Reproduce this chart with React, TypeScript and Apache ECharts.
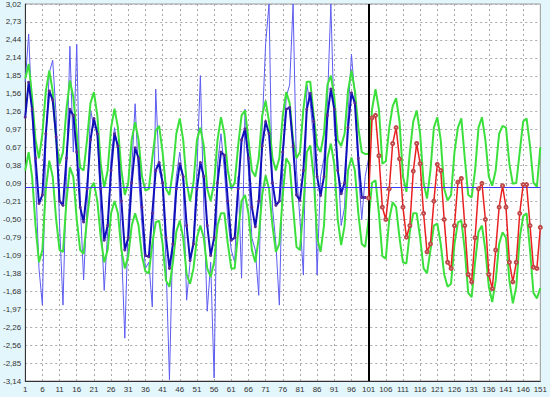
import React, { useEffect, useRef } from "react";
import * as echarts from "echarts";

const xLabels: string[] = Array.from({ length: 151 }, (_, k) => String(k + 1));

const yTickLabels = [
  "-3,14", "-2,85", "-2,56", "-2,26", "-1,97", "-1,68", "-1,38", "-1,09", "-0,79", "-0,50", "-0,21",
  "0,09", "0,38", "0,67", "0,97", "1,26", "1,56", "1,85", "2,14", "2,44", "2,73", "3,02",
];

const Y_MIN = -3.14;
const Y_MAX = 3.02;
const MEAN_LEVEL = 0.02;
const SPLIT_INDEX = "101";

// observed series (thin blue), points 1..101
const actual = [
  1.75, 2.53, 1.2, 0.2, -1.3, -1.9, 0.8, 1.9, 2.1, 1.2,
  -0.6, -1.9, 0.2, 2.33, 0.6, 2.36, -0.2, -1.49, -0.3, 1.3,
  1.0, 1.0, -0.4, -1.66, -0.7, 0.5, 1.0, 0.6, -0.9, -2.44,
  -0.5, 0.3, 1.39, 0.2, -0.6, -1.3, -1.2, -1.93, 1.63, 0.3,
  0.1, -1.2, -3.12, -0.7, 0.2, 0.6, 0.1, -1.82, -1.2, -0.8,
  0.3, 1.85, -0.3, -2.0, -1.2, -3.09, 0.4, 0.9, 0.3, -0.5,
  -1.0, -1.2, 0.2, -1.46, 1.3, 0.3, -0.8, -1.0, -1.74, 1.0,
  2.37, 3.02, -0.3, -0.9, -1.9, 0.4, 1.5, 1.7, 3.02, 0.3,
  -0.5, -1.41, 1.7, 1.4, 0.8, -1.41, 0.2, 0.5, 1.4, 3.02,
  1.0, 0.5, -0.6, -0.3, 1.2, 2.2, 1.5, 0.3, -0.5, 0.2,
  0.5,
];

// fitted series (thick dark blue), points 1..100
const fitted = [
  1.17, 1.74, 1.3, 0.5, -0.24, -0.1, 0.9, 1.6, 1.45, 0.85,
  -0.2, -0.27, 0.5, 1.3, 1.2, 0.6, -0.3, -0.54, 0.0, 0.8,
  1.15, 0.9, 0.0, -0.84, -0.6, 0.3, 0.9, 0.7, -0.2, -1.0,
  -0.8, 0.1, 0.67, 0.5, -0.3, -1.09, -1.11, -0.4, 0.3, 0.43,
  0.1, -0.8, -1.3, -0.9, 0.0, 0.41, 0.2, -0.6, -1.17, -0.9,
  0.0, 0.43, 0.2, -0.6, -1.09, -0.8, 0.1, 0.6, 0.55, -0.2,
  -0.84, -0.8, 0.0, 0.8, 0.98, 0.5, -0.3, -0.62, -0.2, 0.7,
  1.1, 0.9, 0.1, -0.27, -0.2, 0.6, 1.3, 1.33, 0.7, -0.1,
  -0.19, 0.3, 1.3, 1.56, 1.1, 0.2, -0.11, 0.2, 1.2, 1.63,
  1.3, 0.3, -0.08, 0.1, 1.0, 1.57, 1.4, 0.5, -0.14, -0.14,
];

// upper band (green), points 1..151
const upper = [
  1.8, 2.04, 1.5, 0.8, 0.5, 0.9, 1.6, 1.93, 1.6, 0.8,
  0.41, 0.6, 1.3, 1.77, 1.5, 0.9, 0.35, 0.3, 0.8, 1.4,
  1.58, 1.2, 0.4, 0.02, 0.3, 1.0, 1.31, 1.0, 0.3, -0.1,
  0.1, 0.8, 1.09, 0.8, 0.2, -0.03, 0.0, 0.5, 0.95, 1.03,
  0.6, 0.0, -0.1, 0.3, 0.9, 1.15, 0.8, 0.1, -0.2, 0.1,
  0.8, 1.0, 0.7, 0.0, -0.2, 0.1, 0.8, 1.17, 0.9, 0.3,
  0.0, 0.1, 0.7, 1.2, 1.28, 0.8, 0.3, 0.2, 0.5, 1.2,
  1.44, 1.1, 0.5, 0.3, 0.5, 1.2, 1.58, 1.4, 0.8, 0.5,
  0.6, 1.3, 1.75, 1.75, 1.2, 0.7, 0.6, 0.9, 1.7, 1.85,
  1.5, 0.8, 0.7, 0.9, 1.6, 1.93, 1.6, 1.0, 0.6, 0.57,
  0.57, 1.3, 1.63, 1.3, 0.41, 0.45, 1.0, 1.35, 1.48, 1.1,
  0.2, -0.05, 0.6, 1.1, 1.28, 0.9, 0.1, -0.16, 0.3, 1.0,
  1.17, 0.8, 0.0, -0.19, -0.1, 0.6, 1.0, 1.15, 0.5, -0.1,
  -0.14, 0.3, 1.0, 1.17, 0.8, 0.2, 0.05, 0.3, 0.9, 1.03,
  1.0, 0.4, 0.08, 0.1, 0.6, 1.1, 1.15, 0.7, 0.1, 0.03,
  0.68,
];

// lower band (green), points 1..151
const lower = [
  0.3, 0.6, 0.2, -0.6, -1.2, -1.0, 0.0, 0.46, 0.2, -0.5,
  -1.0, -1.03, -0.2, 0.35, 0.2, -0.5, -1.0, -1.06, -0.5, 0.0,
  0.1, -0.2, -0.8, -1.2, -1.0, -0.4, -0.2, -0.4, -1.0, -1.3,
  -1.1, -0.6, -0.4, -0.6, -1.1, -1.35, -1.38, -0.9, -0.55, -0.52,
  -0.9, -1.5, -1.6, -1.2, -0.7, -0.52, -0.8, -1.4, -1.55, -1.3,
  -0.8, -0.6, -0.8, -1.3, -1.44, -1.2, -0.6, -0.4, -0.4, -0.9,
  -1.3, -1.3, -0.7, -0.2, -0.1, -0.4, -1.0, -1.2, -0.8, -0.1,
  0.22, 0.0, -0.6, -1.03, -0.9, -0.1, 0.5, 0.4, -0.3, -0.95,
  -1.0, -0.3, 0.6, 0.71, 0.2, -0.8, -1.03, -0.6, 0.5, 0.74,
  0.4, -0.5, -0.92, -0.6, 0.3, 0.51, 0.3, -0.4, -0.9, -0.95,
  -0.5, 0.1, 0.14, -0.4, -1.1, -1.14, -0.5, -0.22, -0.3, -0.8,
  -1.2, -1.22, -0.7, -0.4, -0.4, -0.8, -1.3, -1.38, -1.0, -0.6,
  -0.57, -0.9, -1.4, -1.6, -1.55, -0.9, -0.55, -0.52, -1.0, -1.7,
  -1.77, -1.2, -0.7, -0.6, -1.0, -1.6, -1.85, -1.5, -0.9, -0.71,
  -0.8, -1.5, -1.87, -1.6, -0.8, -0.45, -0.4, -1.0, -1.7, -1.79,
  -1.62,
];

// forecast (red), points 101..151
const forecast = [
  -0.15, 1.16, 1.2, 0.54, -0.3, -0.5, 0.0, 0.74, 1.0, 0.49,
  -0.3, -0.79, -0.6, 0.29, 0.74, 0.41, -0.4, -1.03, -0.9, -0.2,
  0.4, 0.3, -0.5, -1.2, -1.3, -0.6, 0.11, 0.17, -0.6, -1.4,
  -1.52, -0.8, 0.0, 0.09, -0.5, -1.4, -1.63, -1.0, -0.3, 0.05,
  -0.3, -1.2, -1.52, -1.2, -0.4, 0.07, 0.07, -0.6, -1.28, -1.3,
  -0.63,
];

const FORECAST_START = 101;

export default function App() {
  const ref = useRef<HTMLDivElement>(null);

  useEffect(() => {
    document.body.style.margin = "0";
    if (!ref.current) return;
    const chart = echarts.init(ref.current, undefined, { renderer: "svg" });
    const step = (Y_MAX - Y_MIN) / (yTickLabels.length - 1);
    const forecastData: (number | null)[] = xLabels.map((_, k) => {
      const idx = k + 1 - FORECAST_START;
      return idx >= 0 && idx < forecast.length ? forecast[idx] : null;
    });
    const font = "Liberation Sans, Arial, sans-serif";
    chart.setOption({
      animation: false,
      backgroundColor: "#E3F6FC",
      grid: {
        left: 25,
        right: 4,
        top: 3,
        bottom: 16,
        show: true,
        backgroundColor: "#ffffff",
        borderColor: "#9a9a9a",
        borderWidth: 1,
      },
      xAxis: {
        type: "category",
        data: xLabels,
        boundaryGap: false,
        axisLine: { show: true, onZero: false, lineStyle: { color: "#333333", width: 1 } },
        axisTick: { show: false },
        axisLabel: {
          interval: 4,
          fontSize: 8,
          color: "#333333",
          fontFamily: font,
          margin: 4,
        },
        splitLine: {
          show: true,
          interval: 4,
          lineStyle: { color: "#a8a8a8", type: [2, 3], width: 1 },
        },
      },
      yAxis: {
        type: "value",
        min: Y_MIN,
        max: Y_MAX,
        interval: step,
        axisLine: { show: true, onZero: false, lineStyle: { color: "#333333", width: 1 } },
        axisTick: { show: false },
        axisLabel: {
          fontSize: 8,
          color: "#333333",
          fontFamily: font,
          margin: 4,
          formatter: (v: number) => {
            const k = Math.round((v - Y_MIN) / step);
            return yTickLabels[k] ?? "";
          },
        },
        splitLine: {
          show: true,
          lineStyle: { color: "#a8a8a8", type: [2, 3], width: 1 },
        },
      },
      series: [
        {
          name: "actual",
          type: "line",
          data: actual,
          showSymbol: false,
          lineStyle: { color: "#5c5cf0", width: 1 },
          z: 2,
          markLine: {
            silent: true,
            symbol: "none",
            label: { show: false },
            data: [
              { yAxis: MEAN_LEVEL, lineStyle: { color: "#3a3aff", width: 1, type: "solid" } },
            ],
          },
        },
        {
          name: "upper",
          type: "line",
          data: upper,
          showSymbol: false,
          lineStyle: { color: "#3ce03c", width: 2 },
          z: 3,
        },
        {
          name: "lower",
          type: "line",
          data: lower,
          showSymbol: false,
          lineStyle: { color: "#3ce03c", width: 2 },
          z: 3,
        },
        {
          name: "fitted",
          type: "line",
          data: fitted,
          symbol: "circle",
          symbolSize: 3,
          showSymbol: true,
          showAllSymbol: true,
          itemStyle: { color: "#5a2a96" },
          lineStyle: { color: "#1010b8", width: 2 },
          z: 4,
        },
        {
          name: "forecast",
          type: "line",
          data: forecastData,
          symbol: "emptyCircle",
          symbolSize: 3,
          showSymbol: true,
          showAllSymbol: true,
          itemStyle: { color: "#c04848", borderWidth: 1 },
          lineStyle: { color: "#e82020", width: 1.5 },
          z: 5,
          markLine: {
            silent: true,
            symbol: "none",
            label: { show: false },
            data: [
              { xAxis: SPLIT_INDEX, lineStyle: { color: "#000000", width: 2, type: "solid" } },
            ],
          },
        },
      ],
    });
    return () => chart.dispose();
  }, []);

  return <div ref={ref} style={{ width: 550, height: 397 }} />;
}
